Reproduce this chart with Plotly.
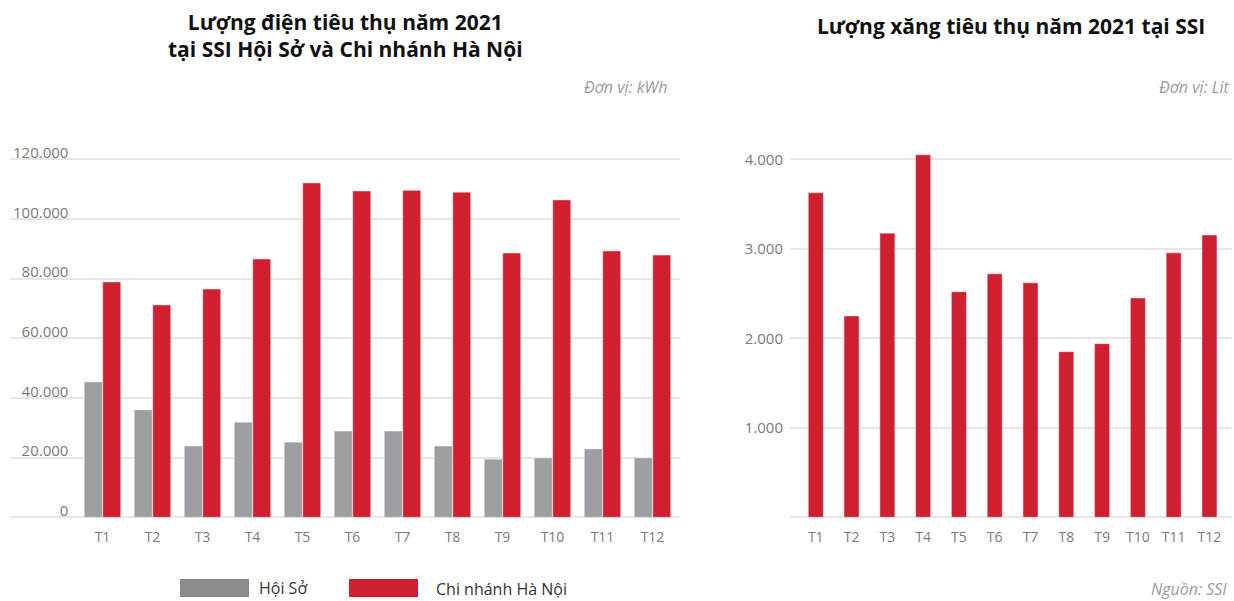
import plotly.graph_objects as go

months = ["T1", "T2", "T3", "T4", "T5", "T6", "T7", "T8", "T9", "T10", "T11", "T12"]
dien_hoi_so = [45400, 36000, 23900, 31900, 25200, 28900, 28900, 23900, 19500, 19900, 22900, 19900]
dien_chi_nhanh = [78900, 71200, 76500, 86600, 112100, 109400, 109600, 109000, 88600, 106400, 89300, 87900]
xang = [3625, 2250, 3175, 4050, 2520, 2720, 2620, 1850, 1940, 2450, 2955, 3155]
left_tickvals = [0, 20000, 40000, 60000, 80000, 100000, 120000]
right_tickvals = [1000, 2000, 3000, 4000]

GRAY = "#9d9ea2"
GRAY_LEG = "#898b8e"
RED = "#d02030"
GRID = "#e6e6e6"
TICK = "#7a7a7a"
FONT = "Open Sans"
W, H = 1234, 601


def px(x):
    return x / W


def py(y):
    return 1 - y / H


def vn_num(v):
    return f"{v:,}".replace(",", ".")


def padded(v, width=7):
    s = vn_num(v)
    missing = width - len(s)
    pad = ""
    if missing > 0:
        # figure spaces for digits, punctuation space for the dot
        if "." not in s:
            pad = "\u2007" * (missing - 1) + "\u2008"
        else:
            pad = "\u2007" * missing
    return pad + s


left_ticktext = [padded(v) for v in left_tickvals]
right_ticktext = [vn_num(v) for v in right_tickvals]

fig = go.Figure()
fig.add_trace(go.Bar(x=months, y=dien_hoi_so, name="Hội Sở", marker_color=GRAY,
                     xaxis="x", yaxis="y", showlegend=False))
fig.add_trace(go.Bar(x=months, y=dien_chi_nhanh, name="Chi nhánh Hà Nội", marker_color=RED,
                     xaxis="x", yaxis="y", showlegend=False))
fig.add_trace(go.Bar(x=months, y=xang, name="Xăng", marker_color=RED, width=0.42,
                     xaxis="x2", yaxis="y2", showlegend=False))

PXK = 2.983  # px per 1000 kWh
ZERO_PX = 517.3
y_bot, y_top = -2000, 128000
y_dom = [py(ZERO_PX - y_bot / 1000 * PXK), py(ZERO_PX - y_top / 1000 * PXK)]
y2_dom = [py(ZERO_PX), py(141.4)]

fig.update_layout(
    width=W, height=H,
    margin=dict(l=0, r=0, t=0, b=0),
    paper_bgcolor="white", plot_bgcolor="white",
    font=dict(family=FONT, color=TICK),
    barmode="group", bargap=0.26, bargroupgap=0.03,
    xaxis=dict(domain=[px(10), px(680)], anchor="y", type="category",
               range=[-1.85, 11.55], showgrid=False, showline=False,
               ticks="", ticklabelstandoff=4,
               tickfont=dict(size=14, color=TICK, family=FONT)),
    yaxis=dict(domain=y_dom, anchor="x", range=[y_bot, y_top],
               tickvals=left_tickvals, ticktext=left_ticktext,
               ticklabelposition="inside top", ticklabelshift=4,
               showgrid=True, gridcolor=GRID, gridwidth=1.5,
               zeroline=True, zerolinecolor=GRID, zerolinewidth=1.5,
               showline=False, ticks="",
               tickfont=dict(size=15, color=TICK, family=FONT)),
    xaxis2=dict(domain=[px(790), px(1232)], anchor="y2", type="category",
                range=[-0.72, 11.63], showgrid=False, showline=False,
                ticks="", ticklabelstandoff=10,
                tickfont=dict(size=14, color=TICK, family=FONT)),
    yaxis2=dict(domain=y2_dom, anchor="x2", range=[0, 4200],
                tickvals=right_tickvals, ticktext=right_ticktext,
                showgrid=True, gridcolor=GRID, gridwidth=1.5,
                zeroline=True, zerolinecolor=GRID, zerolinewidth=1.5,
                showline=False, ticks="", ticklabelstandoff=6,
                tickfont=dict(size=15, color=TICK, family=FONT)),
)

annotations = [
    dict(text="<b>Lượng điện tiêu thụ năm 2021</b><br><b>tại SSI Hội Sở và Chi nhánh Hà Nội</b>",
         x=px(345), y=py(6), xanchor="center", yanchor="top",
         font=dict(size=21, color="#111111", family=FONT)),
    dict(text="<b>Lượng xăng tiêu thụ năm 2021 tại SSI</b>",
         x=px(1011), y=py(26), xanchor="center", yanchor="middle",
         font=dict(size=21, color="#111111", family=FONT)),
    dict(text="<i>Đơn vị: kWh</i>", x=px(669), y=py(87), xanchor="right", yanchor="middle",
         font=dict(size=16, color="#9a9a9a", family=FONT)),
    dict(text="<i>Đơn vị: Lit</i>", x=px(1231), y=py(87), xanchor="right", yanchor="middle",
         font=dict(size=16, color="#9a9a9a", family=FONT)),
    dict(text="<i>Nguồn: SSI</i>", x=px(1229), y=py(589), xanchor="right", yanchor="middle",
         font=dict(size=16, color="#9a9a9a", family=FONT)),
    dict(text="Hội Sở", x=px(257), y=py(588), xanchor="left", yanchor="middle",
         font=dict(size=16, color="#333333", family=FONT)),
    dict(text="Chi nhánh Hà Nội", x=px(434), y=py(589), xanchor="left", yanchor="middle",
         font=dict(size=16, color="#333333", family=FONT)),
]
for a in annotations:
    a.update(xref="paper", yref="paper", showarrow=False)
fig.update_layout(annotations=annotations)

fig.update_layout(shapes=[
    dict(type="rect", xref="paper", yref="paper", x0=px(180), x1=px(249), y0=py(597), y1=py(579),
         fillcolor=GRAY_LEG, line=dict(width=0)),
    dict(type="rect", xref="paper", yref="paper", x0=px(349), x1=px(418), y0=py(597), y1=py(579),
         fillcolor=RED, line=dict(width=0)),
])

fig.write_html("out.html",
               config={"displayModeBar": False},
               post_script="document.body.style.margin='0';document.body.style.overflow='hidden';")
